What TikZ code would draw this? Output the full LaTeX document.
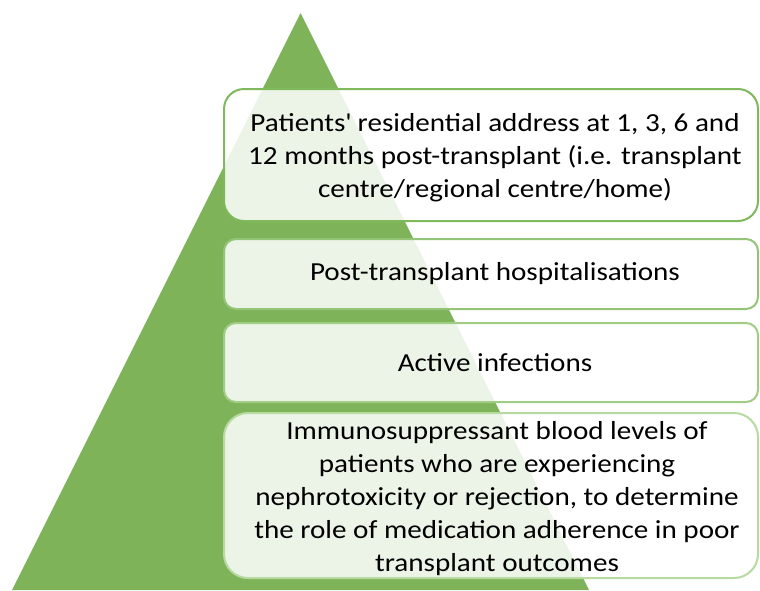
\documentclass[tikz,border=0pt]{standalone}
\usepackage{fontspec}
\setmainfont{Carlito}[FakeStretch=1.12]
\definecolor{tri}{RGB}{127,179,90}
\definecolor{lineA}{RGB}{128,184,92}
\definecolor{lineB}{RGB}{148,196,118}
\definecolor{lineC}{RGB}{160,205,132}
\definecolor{lineD}{RGB}{182,218,160}
\begin{document}
\begin{tikzpicture}[x=1pt,y=-1pt,
  boxshape/.style={fill=white,fill opacity=0.86,line width=2pt},
  txt/.style={align=center,font=\fontsize{26}{32.8}\selectfont,text=black,inner sep=0pt,anchor=base}]
\useasboundingbox (0,0) rectangle (760,590);
\fill[tri] (12,590) -- (300.5,13) -- (589,590) -- cycle;
\draw[boxshape,draw=lineA,rounded corners=20pt] (224,89) rectangle (758,221);
\draw[boxshape,draw=lineB,rounded corners=12pt] (224,239) rectangle (758,309);
\draw[boxshape,draw=lineC,rounded corners=12pt] (224,323) rectangle (758,402);
\draw[boxshape,draw=lineD,rounded corners=24pt] (224,413) rectangle (758,578);
\node[txt] (t1) at (495,197) {Patients\textquotesingle{} residential address at 1, 3, 6 and\\12 months post-transplant (i.e. transplant\\centre/regional centre/home)};
\node[txt] (t2) at (495,280.7) {Post-transplant hospitalisations};
\node[txt] (t3) at (495,371) {Active infections};
\node[txt] (t4) at (497,571) {Immunosuppressant blood levels of\\patients who are experiencing\\nephrotoxicity or rejection, to determine\\the role of medication adherence in poor\\transplant outcomes};
\end{tikzpicture}
\end{document}
